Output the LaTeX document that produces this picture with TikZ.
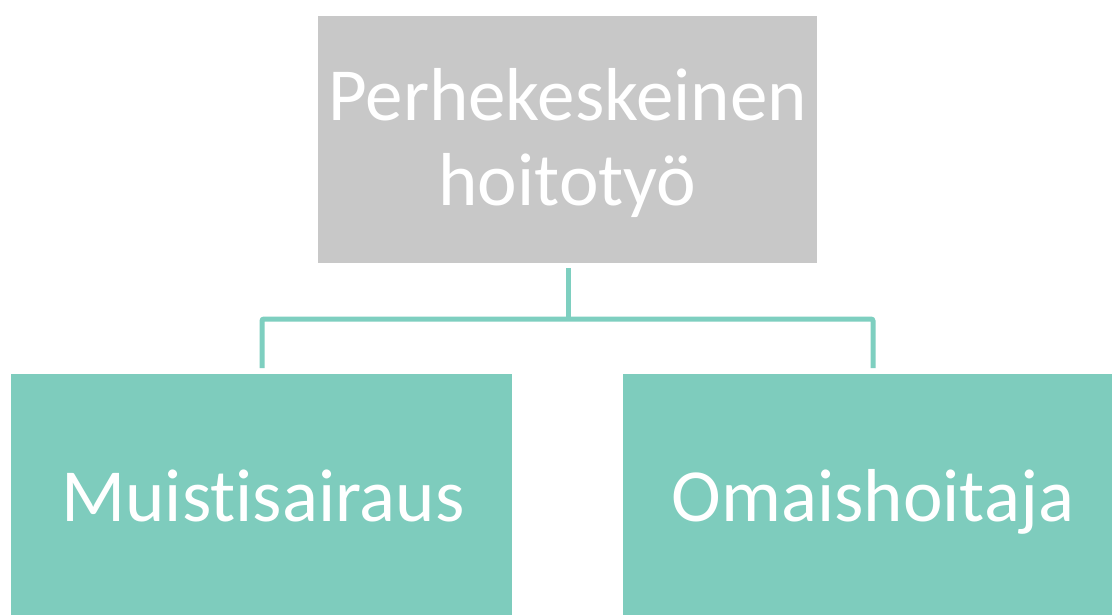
\documentclass[tikz,border=0pt]{standalone}
\usepackage{fontspec}
\setmainfont{Carlito}[Ligatures={NoCommon}]
\definecolor{boxgray}{HTML}{C8C8C8}
\definecolor{boxteal}{HTML}{7ECCBD}
\definecolor{lineteal}{HTML}{7ECFC0}
\begin{document}
\begin{tikzpicture}[x=1pt,y=-1pt,
  box/.style={draw=none,inner sep=0pt,text=white,font=\fontsize{75}{85}\selectfont,align=center},
  conn/.style={draw=lineteal,line width=5pt,rounded corners=2pt}]
\useasboundingbox (0,0) rectangle (1112,615);
\fill[white] (0,0) rectangle (1112,615);
\fill[boxgray] (318,16) rectangle (817,263);
\fill[boxteal] (11,374) rectangle (512,615);
\fill[boxteal] (623,374) rectangle (1112,615);
\node[box] (top) at (567.5,143) {Perhekeskeinen\\hoitotyö};
\node[box,anchor=base] (left) at (263,521) {Muistisairaus};
\node[box,anchor=base] (right) at (873,521) {Omaishoitaja};
\coordinate (ts) at (568,268);
\coordinate (mid) at (568,319);
\coordinate (le) at (262,368);
\coordinate (re) at (873,368);
\draw[conn] (ts) -- (mid);
\draw[conn] (le) |- (mid) -| (re);
\end{tikzpicture}
\end{document}
